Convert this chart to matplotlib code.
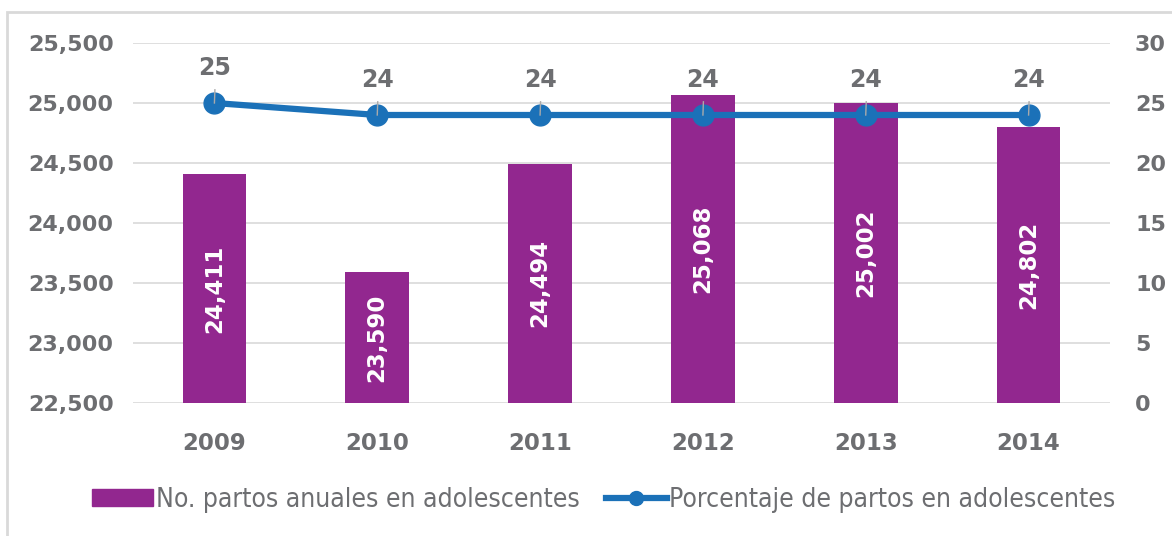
import numpy as np
import matplotlib.pyplot as plt
from matplotlib.patches import Rectangle

years = ['2009', '2010', '2011', '2012', '2013', '2014']
partos = [24411, 23590, 24494, 25068, 25002, 24802]
porcentaje = [25, 24, 24, 24, 24, 24]

PURPLE = '#92278f'
BLUE = '#1b71b8'
GRAY = '#6d6e71'


def main() -> None:
    fig = plt.figure(figsize=(11.72, 5.36), dpi=100)
    ax = fig.add_axes([133 / 1172, 1 - 403 / 536, 977 / 1172, 360 / 536])
    ax2 = ax.twinx()

    x = np.arange(len(years))
    ax.bar(x, np.array(partos) - 22500, bottom=22500, width=0.39, color=PURPLE, zorder=2)
    for xi, v in zip(x, partos):
        ax.text(xi, (22500 + v) / 2, f'{v:,}', rotation=90, ha='center', va='center',
                color='white', fontsize=16.5, fontweight='bold', zorder=3)

    ax.set_ylim(22500, 25500)
    ax.set_yticks(np.arange(22500, 25501, 500))
    ax.set_yticklabels([f'{t:,}' for t in range(22500, 25501, 500)])
    ax.set_xlim(-0.5, len(years) - 0.5)
    ax.set_xticks(x)
    ax.set_xticklabels(years)
    ax.grid(axis='y', color='#d9d9d9', lw=1.2, zorder=0)
    ax.set_axisbelow(True)

    ax2.plot(x, porcentaje, color=BLUE, lw=4.5, marker='o', ms=15, zorder=4)
    ax2.set_ylim(0, 30)
    ax2.set_yticks(range(0, 31, 5))
    for xi, v in zip(x, porcentaje):
        ax2.plot([xi, xi + 0.003], [v, v + 1.1], color='#aaaaaa', lw=1, zorder=5)
        ax2.text(xi, v + 2.95, str(v), ha='center', va='center', color=GRAY,
                 fontsize=17, fontweight='bold')

    for a in (ax, ax2):
        for s in a.spines.values():
            s.set_visible(False)
        a.tick_params(length=0, colors=GRAY, labelsize=16)
        for lab in a.get_xticklabels() + a.get_yticklabels():
            lab.set_fontweight('bold')
    ax.tick_params(axis='x', labelsize=16.5, pad=21)
    ax.tick_params(axis='y', pad=14)
    ax2.tick_params(axis='y', pad=18)

    h1 = Rectangle((0, 0), 1, 1, color=PURPLE)
    h2 = plt.Line2D([], [], color=BLUE, lw=4.5, marker='o', ms=10)
    fig.legend([h1, h2], ['No. partos anuales en adolescentes', 'Porcentaje de partos en adolescentes'],
               loc='center', bbox_to_anchor=(604 / 1172, 1 - 500 / 536), ncol=2, frameon=False,
               prop={'family': 'DejaVu Sans', 'stretch': 'condensed', 'size': 19},
               labelcolor=GRAY, handlelength=2.3, handleheight=0.6, handletextpad=0.1,
               columnspacing=1.0)

    fig.patches.append(Rectangle((7 / 1172, -0.05), 1.1, 1 - 12 / 536 + 0.05, transform=fig.transFigure,
                                 fill=False, edgecolor='#d9d9d9', lw=2))
    fig.savefig('out.png', dpi=100)


if __name__ == '__main__':
    main()
